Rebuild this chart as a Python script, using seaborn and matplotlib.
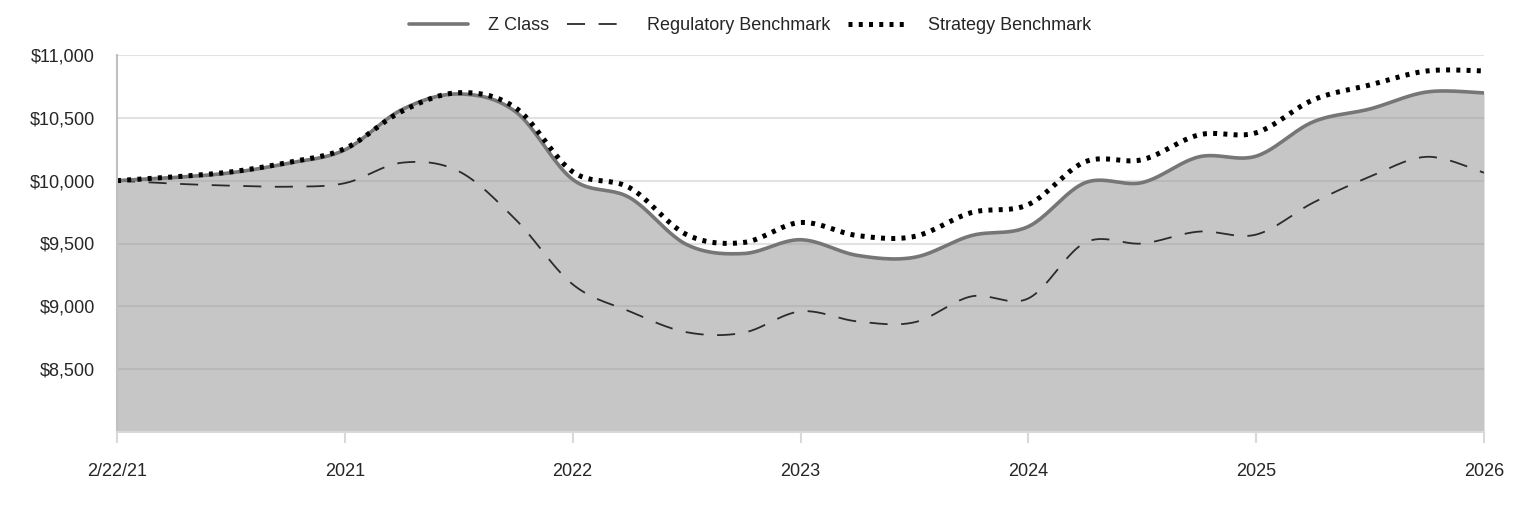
import numpy as np
import pandas as pd
import matplotlib
matplotlib.use("Agg")
import matplotlib.pyplot as plt
import seaborn as sns

# quarterly readings, 2/22/21 through 2026
tick_labels = ["2/22/21", "2021", "2022", "2023", "2024", "2025", "2026"]
z_class = [10000, 10025, 10063, 10138, 10245, 10565, 10690, 10548, 10010, 9865,
           9492, 9420, 9530, 9405, 9390, 9563, 9635, 9984, 9985, 10190,
           10195, 10468, 10571, 10706, 10698]
regulatory = [10000, 9976, 9960, 9952, 9980, 10143, 10075, 9690, 9175, 8960,
              8794, 8790, 8960, 8880, 8873, 9079, 9063, 9508, 9500, 9595,
              9571, 9825, 10032, 10190, 10063]
strategy = [10000, 10030, 10070, 10145, 10255, 10552, 10700, 10579, 10071, 9944,
            9571, 9508, 9667, 9563, 9556, 9746, 9810, 10151, 10167, 10365,
            10381, 10643, 10762, 10873, 10873]


def smooth(y, n=24):
    # excel-style smoothed line: bezier segments through every reading
    y = np.asarray(y, dtype=float)
    x = np.arange(len(y), dtype=float)
    p = np.column_stack([x, y])
    pad = np.vstack([p[0], p, p[-1]])
    out = []
    t = np.linspace(0, 1, n, endpoint=False)[:, None]
    for i in range(len(p) - 1):
        p0, p3 = pad[i + 1], pad[i + 2]
        c1 = p0 + (pad[i + 2] - pad[i]) / 6
        c2 = p3 - (pad[i + 3] - pad[i + 1]) / 6
        seg = ((1 - t) ** 3) * p0 + 3 * ((1 - t) ** 2) * t * c1 + 3 * (1 - t) * t ** 2 * c2 + t ** 3 * p3
        out.append(seg)
    out.append(p[-1][None, :])
    out = np.vstack(out)
    return out[:, 0], out[:, 1]


sns.set_style("white")
plt.rcParams['font.family'] = ['Liberation Sans', 'DejaVu Sans']

fig = plt.figure(figsize=(15.24, 5.16), dpi=100)
ax = fig.add_axes([117 / 1524, 1 - 432 / 516, (1484 - 117) / 1524, (432 - 55) / 516])

zx, zy = smooth(z_class)
rx, ry = smooth(regulatory)
sx, sy = smooth(strategy)

ax.fill_between(zx, 8000, zy, color="#C6C6C6", lw=0, zorder=1)

# grid drawn over the fill, translucent so it darkens inside the area
for v in range(8500, 11001, 500):
    ax.axhline(v, color="#9A9A9A", alpha=0.28, lw=1.5, zorder=2)

sns.lineplot(x=zx, y=zy, ax=ax, color="#767676", lw=2.6, label="Z Class", zorder=4, sort=False)
sns.lineplot(x=rx, y=ry, ax=ax, color="#2B2B2B", lw=1.3, label="Regulatory Benchmark",
             zorder=3, sort=False, dashes=False)
ax.lines[-1].set_dashes((10, 7.5))
sns.lineplot(x=sx, y=sy, ax=ax, color="black", lw=3.6, label="Strategy Benchmark",
             zorder=5, sort=False)
ax.lines[-1].set_dashes((0.8, 1.25))
ax.lines[-1].set_dash_capstyle("butt")

ax.set_xlim(0, len(z_class) - 1)
ax.set_ylim(8000, 11000)
ax.set_xticks(range(0, len(z_class), 4))
ax.set_xticklabels(tick_labels, fontsize=13)
ax.set_yticks(range(8500, 11001, 500))
ax.set_yticklabels([f"${v:,}" for v in range(8500, 11001, 500)], fontsize=13)
ax.tick_params(axis="x", length=8, width=1.5, color="#D9D9D9", pad=14, direction="out", bottom=True)
ax.tick_params(axis="y", length=0, pad=16)

for s in ["top", "right"]:
    ax.spines[s].set_visible(False)
ax.spines["left"].set_color("#C0C0C0")
ax.spines["left"].set_linewidth(1.5)
ax.spines["left"].set_zorder(6)
ax.spines["bottom"].set_color("#D9D9D9")
ax.spines["bottom"].set_linewidth(1.5)
ax.spines["bottom"].set_zorder(6)
ax.set_xlabel("")
ax.set_ylabel("")

leg = ax.legend(loc="center", bbox_to_anchor=(0.492, (516 - 26) / 516), bbox_transform=fig.transFigure,
                ncol=3, frameon=False, fontsize=13, handlelength=3.3, columnspacing=1.0,
                handletextpad=1.1)

fig.savefig("out.png", dpi=100)
